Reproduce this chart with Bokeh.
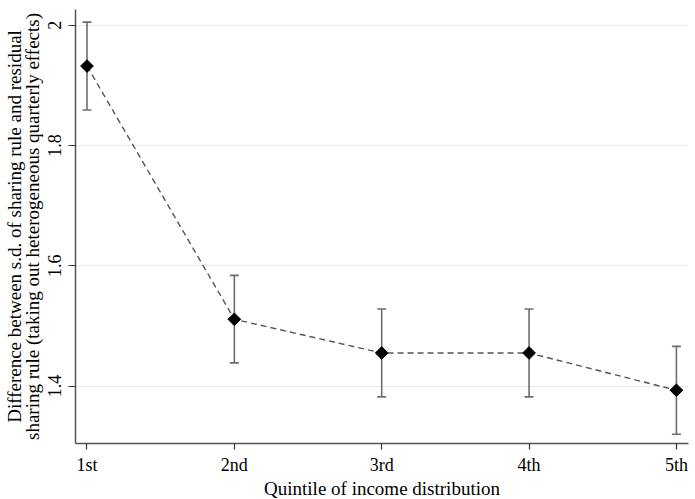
from bokeh.plotting import figure
from bokeh.models import ColumnDataSource, Range1d, FixedTicker, Whisker, TeeHead
from bokeh.embed import file_html
from bokeh.resources import INLINE
import math

# Data
quintiles = [1, 2, 3, 4, 5]
quintile_labels = ["1st", "2nd", "3rd", "4th", "5th"]
estimate = [1.932, 1.511, 1.455, 1.455, 1.393]
ci_lower = [1.859, 1.4385, 1.382, 1.382, 1.320]
ci_upper = [2.005, 1.584, 1.528, 1.528, 1.466]
yticks = [1.4, 1.6, 1.8, 2.0]
ytick_labels = ["1.4", "1.6", "1.8", "2"]

FONT = "'Liberation Serif', 'DejaVu Serif', serif"

src = ColumnDataSource(dict(x=quintiles, y=estimate, lo=ci_lower, hi=ci_upper))

p = figure(frame_width=613, frame_height=434,
           min_border_left=71, min_border_right=3, min_border_top=9, min_border_bottom=48,
           x_range=Range1d(0.922, 5.082), y_range=Range1d(1.3045, 2.026),
           output_backend="svg", toolbar_location=None)

p.outline_line_color = None
p.background_fill_color = "white"
p.border_fill_color = "white"
p.xgrid.grid_line_color = None
p.ygrid.grid_line_color = "#e8e8e8"
p.ygrid.grid_line_width = 1.2

# Axes
p.xaxis.ticker = FixedTicker(ticks=quintiles)
p.xaxis.major_label_overrides = {q: l for q, l in zip(quintiles, quintile_labels)}
p.yaxis.ticker = FixedTicker(ticks=yticks)
p.yaxis.major_label_overrides = {t: l for t, l in zip(yticks, ytick_labels)}
p.yaxis.major_label_orientation = "vertical"

for ax in (p.xaxis, p.yaxis):
    ax.axis_line_color = "#555555"
    ax.axis_line_width = 1.5
    ax.major_tick_line_color = "#333333"
    ax.major_tick_line_width = 1.2
    ax.major_tick_in = 0
    ax.major_tick_out = 7
    ax.minor_tick_line_color = None
    ax.major_label_text_font = FONT
    ax.major_label_text_font_size = "18px"
    ax.major_label_text_color = "black"
    ax.axis_label_text_font = FONT
    ax.axis_label_text_font_size = "19px"
    ax.axis_label_text_font_style = "normal"
    ax.axis_label_text_color = "black"

p.xaxis.major_tick_out = 6
p.xaxis.major_label_standoff = 5
p.xaxis.axis_label_standoff = 0
p.xaxis.axis_label = "Quintile of income distribution"

p.yaxis.major_label_standoff = 7
p.yaxis.axis_label_standoff = 3
p.yaxis.axis_label = ("Difference between s.d. of sharing rule and residual\n"
                      "sharing rule (taking out heterogeneous quarterly effects)")
p.yaxis.axis_label_text_line_height = 0.85

# Error bars
w = Whisker(base="x", lower="lo", upper="hi", source=src,
            line_color="#6e6e6e", line_width=1.6,
            lower_head=TeeHead(size=9, line_color="#6e6e6e", line_width=1.6),
            upper_head=TeeHead(size=9, line_color="#6e6e6e", line_width=1.6))
p.add_layout(w)

# Connecting dashed line
p.line("x", "y", source=src, line_color="#555555", line_width=1.4, line_dash="6 4")

# Markers
p.scatter("x", "y", source=src, marker="square", size=9, angle=math.pi / 4,
          fill_color="black", line_color="black", line_width=1)

open("out.html", "w").write(file_html(p, INLINE))
